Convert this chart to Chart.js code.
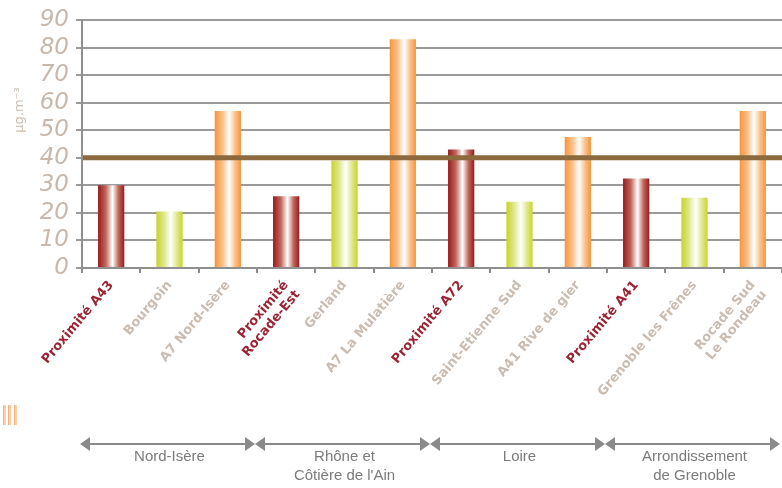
<!DOCTYPE html>
<html>
<head>
<meta charset="utf-8">
<script src="https://cdn.jsdelivr.net/npm/chart.js@4/dist/chart.umd.min.js"></script>
<style>
html,body{margin:0;padding:0;background:#fff;}
#wrap{width:782px;height:488px;position:relative;}
</style>
</head>
<body>
<div id="wrap"><canvas id="c" width="782" height="488"></canvas></div>
<script>
// ---- data ----
const categories = [
  "Proximité A43", "Bourgoin", "A7 Nord-Isère",
  ["Proximité", "Rocade-Est"], "Gerland", "A7 La Mulatière",
  "Proximité A72", "Saint-Etienne Sud", "A41 Rive de gier",
  "Proximité A41", "Grenoble les Frênes", ["Rocade Sud", "Le Rondeau"]
];
const values = [30, 20.5, 57, 26, 39, 83, 43, 24, 47.5, 32.5, 25.5, 57];
const siteKinds = ["prox", "fond", "trafic", "prox", "fond", "trafic", "prox", "fond", "trafic", "prox", "fond", "trafic"];
const yTicks = [0, 10, 20, 30, 40, 50, 60, 70, 80, 90];
const thresholdValue = 40;
const yTitle = "µg.m⁻³";
const groupNames = [["Nord-Isère"], ["Rhône et", "Côtière de l'Ain"], ["Loire"], ["Arrondissement", "de Grenoble"]];
const groupStart = [0, 3, 6, 9];
const groupEnd = [2, 5, 8, 11];

// ---- styles ----
const kindColors = {
  prox:   { edge: "#971a1d", mid: "#c0685c", labelColor: "#9b2433" },
  fond:   { edge: "#c6d526", mid: "#dfe890", labelColor: "#c9bcb1" },
  trafic: { edge: "#f7943a", mid: "#fbc08a", labelColor: "#c9bcb1" }
};
const BAR_PCT = 0.45;

function barFill(ctx) {
  const kind = kindColors[siteKinds[ctx.dataIndex]] || kindColors.prox;
  const chart = ctx.chart;
  if (!chart.chartArea || !chart.scales.x) return kind.edge;
  const sx = chart.scales.x;
  const x = sx.getPixelForValue(ctx.dataIndex);
  const w = (sx.width / categories.length) * BAR_PCT;
  const g = chart.ctx.createLinearGradient(x - w / 2, 0, x + w / 2, 0);
  g.addColorStop(0, kind.edge);
  g.addColorStop(0.3, kind.mid);
  g.addColorStop(0.55, "#ffffff");
  g.addColorStop(0.78, kind.mid);
  g.addColorStop(1, kind.edge);
  return g;
}

const decorPlugin = {
  id: "decor",
  afterDatasetsDraw(chart) {
    const { ctx, chartArea, scales } = chart;
    const y = scales.y.getPixelForValue(thresholdValue);
    ctx.save();
    ctx.strokeStyle = "#8c6a3e";
    ctx.lineWidth = 5;
    ctx.beginPath();
    ctx.moveTo(chartArea.left + 1, y);
    ctx.lineTo(chartArea.right, y);
    ctx.stroke();
    ctx.restore();
  },
  afterDraw(chart) {
    const { ctx, scales } = chart;
    const sx = scales.x;
    const step = sx.width / categories.length;
    ctx.save();
    ctx.fillStyle = "#cdbcae";
    ctx.font = "13px 'DejaVu Sans'";
    ctx.textAlign = "center";
    ctx.textBaseline = "middle";
    ctx.translate(20, 110);
    ctx.rotate(-Math.PI / 2);
    ctx.fillText(yTitle, 0, 0);
    ctx.restore();

    ctx.save();
    [4, 9, 15].forEach(x0 => {
      const g = ctx.createLinearGradient(x0 - 1, 0, x0 + 3, 0);
      g.addColorStop(0, "#f7a05a");
      g.addColorStop(0.5, "#fde0c6");
      g.addColorStop(1, "#f7a05a");
      ctx.fillStyle = g;
      ctx.fillRect(x0 - 1, 405, 3, 20);
    });
    ctx.restore();

    const ay = 444;
    ctx.save();
    ctx.lineWidth = 2;
    for (let i = 0; i < groupNames.length; i++) {
      const x1 = sx.getPixelForValue(groupStart[i]) - step / 2 - 2;
      const x2 = sx.getPixelForValue(groupEnd[i]) + step / 2 - 2;
      const a = 10;
      ctx.strokeStyle = "#8a8a8a";
      ctx.fillStyle = "#8a8a8a";
      ctx.beginPath();
      ctx.moveTo(x1 + a, ay);
      ctx.lineTo(x2 - a, ay);
      ctx.stroke();
      ctx.beginPath();
      ctx.moveTo(x1, ay);
      ctx.lineTo(x1 + a, ay - 7);
      ctx.lineTo(x1 + a, ay + 7);
      ctx.closePath();
      ctx.fill();
      ctx.beginPath();
      ctx.moveTo(x2, ay);
      ctx.lineTo(x2 - a, ay - 7);
      ctx.lineTo(x2 - a, ay + 7);
      ctx.closePath();
      ctx.fill();
      ctx.fillStyle = "#7b7b7b";
      ctx.font = "15px 'Liberation Sans Narrow', 'Liberation Sans'";
      ctx.textAlign = "center";
      ctx.textBaseline = "middle";
      groupNames[i].forEach((t, k) => ctx.fillText(t, (x1 + x2) / 2 + 2, 457 + k * 19));
    }
    ctx.restore();
  }
};

new Chart(document.getElementById("c"), {
  type: "bar",
  data: {
    labels: categories,
    datasets: [{
      data: values,
      backgroundColor: barFill,
      borderWidth: 0,
      barPercentage: BAR_PCT,
      categoryPercentage: 1
    }]
  },
  options: {
    responsive: false,
    animation: false,
    events: [],
    layout: { padding: { top: 20, right: 0, left: 0, bottom: 0 } },
    plugins: { legend: { display: false }, tooltip: { enabled: false } },
    scales: {
      x: {
        offset: true,
        grid: { display: true, drawOnChartArea: false, offset: true, tickLength: 5, color: "#8a8a8a", lineWidth: 2 },
        border: { color: "#8f8f8f", width: 2 },
        ticks: {
          autoSkip: false,
          minRotation: 50,
          maxRotation: 50,
          padding: 5,
          color: (c) => kindColors[siteKinds[c.index]].labelColor,
          font: { family: "'DejaVu Sans'", size: 13, weight: "bold", lineHeight: 1.15 }
        },
        afterFit(axis) { axis.height = 220; }
      },
      y: {
        min: yTicks[0],
        max: yTicks[yTicks.length - 1],
        afterBuildTicks(axis) { axis.ticks = yTicks.map(v => ({ value: v })); },
        grid: { color: "#9a9a9a", lineWidth: 2, tickLength: 6 },
        border: { color: "#8f8f8f", width: 2 },
        ticks: {
          autoSkip: false,
          color: "#c8b8ab",
          padding: 7,
          font: { family: "'DejaVu Sans'", size: 23, style: "italic", lineHeight: 1.0 }
        },
        afterFit(axis) { axis.width = 82; }
      }
    }
  },
  plugins: [decorPlugin]
});
</script>
</body>
</html>
